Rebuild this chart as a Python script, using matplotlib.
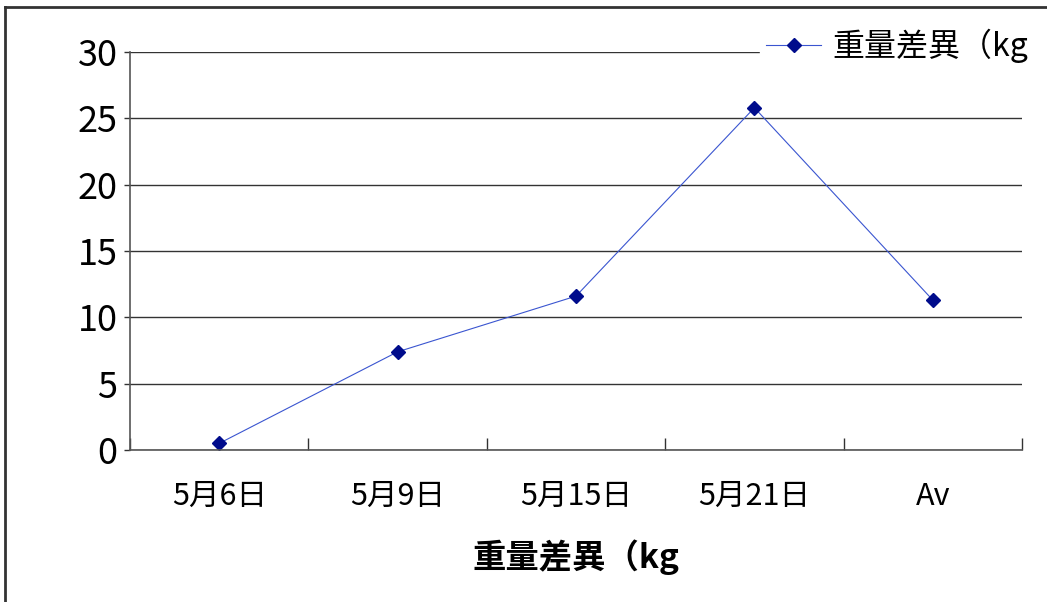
import matplotlib
matplotlib.use('Agg')
import matplotlib.pyplot as plt
from matplotlib.lines import Line2D
import numpy as np

plt.rcParams['font.family'] = ['Noto Sans CJK JP', 'DejaVu Sans']

# データ
categories = ['5月6日', '5月9日', '5月15日', '5月21日', 'Av']
values = [0.5, 7.4, 11.6, 25.8, 11.3]
series_name = '重量差異（kg'
y_ticks = [0, 5, 10, 15, 20, 25, 30]

fig = plt.figure(figsize=(10.47, 6.02), dpi=100)
ax = fig.add_axes([130 / 1047, 1 - 450 / 602, (1022 - 130) / 1047, (450 - 52) / 602])

x = np.arange(1, len(categories) + 1)
ax.plot(x, values, color='#3a55d0', linewidth=0.8, marker='D', markersize=7,
        markerfacecolor='#000c8c', markeredgecolor='#000c8c', label=series_name)

ax.set_xlim(0.5, len(categories) + 0.5)
ax.set_ylim(0, 30)
ax.set_yticks(y_ticks)
ax.set_xticks(x)
ax.set_xticklabels(categories, fontsize=22)
ax.set_xticks(np.arange(0.5, len(categories) + 1, 1), minor=True)
ax.tick_params(axis='x', which='major', length=0, pad=22)
ax.tick_params(axis='x', which='minor', direction='in', length=9, width=1, color='#333333')
ax.tick_params(axis='y', direction='out', length=4, width=1, color='#333333', labelsize=26, pad=5)

ax.grid(axis='y', color='#333333', linewidth=1)
ax.set_axisbelow(True)
for s in ['top', 'right']:
    ax.spines[s].set_visible(False)
for s in ['left', 'bottom']:
    ax.spines[s].set_color('#555555')
    ax.spines[s].set_linewidth(1.2)

ax.set_xlabel(series_name, fontsize=24, fontweight='bold', labelpad=20)

leg = ax.legend(loc='upper left', bbox_to_anchor=(760 / 1047, 1 - 22 / 602),
                bbox_transform=fig.transFigure, frameon=True, fontsize=23,
                handlelength=1.7, handletextpad=0.35, borderaxespad=0,
                borderpad=0.2, fancybox=False)
leg.get_frame().set_edgecolor('white')
leg.get_frame().set_facecolor('white')
leg.get_frame().set_alpha(1)

# 外枠
fig.add_artist(Line2D([5 / 1047, 5 / 1047], [0, 1 - 7 / 602], transform=fig.transFigure,
                      color='#333333', linewidth=2))
fig.add_artist(Line2D([5 / 1047, 1], [1 - 7 / 602, 1 - 7 / 602], transform=fig.transFigure,
                      color='#333333', linewidth=2))

fig.savefig('out.png', dpi=100)
